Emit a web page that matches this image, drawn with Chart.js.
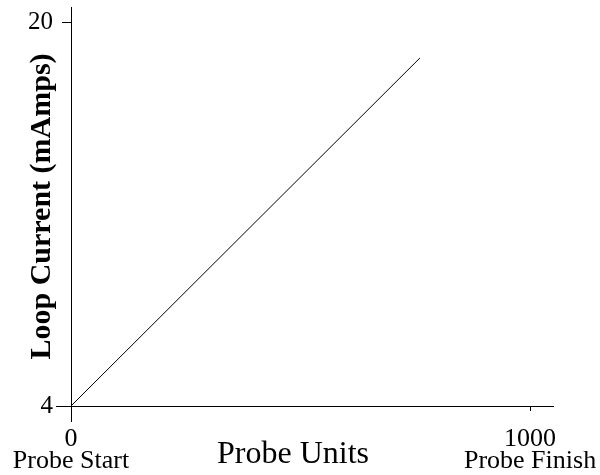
<!DOCTYPE html>
<html lang="en">
<head>
  <meta charset="UTF-8">
  <title>Loop Current vs Probe Units</title>
  <script src="https://cdn.jsdelivr.net/npm/chart.js"></script>
  <style>
    html, body {
      margin: 0;
      padding: 0;
      background: #fff;
    }
    .chart-container {
      width: 600px;
      height: 475px;
    }
  </style>
</head>
<body>

  <div class="chart-container">
    <canvas id="loopChart" width="600" height="475"></canvas>
  </div>

  <script>
    // data
    const probeUnits = [0, 760];
    const loopCurrent = [4, 18.5];
    const xTickValues = [0, 1000];
    const xTickNames = ['Probe Start', 'Probe Finish'];
    const yTickValues = [4, 20];
    const xTitle = 'Probe Units';
    const yTitle = 'Loop Current (mAmps)';

    const serif = 'Liberation Serif';

    // axis overhangs + x title (sits beside the tick labels, like the original)
    const extras = {
      id: 'extras',
      afterDraw(chart) {
        const { ctx, chartArea, scales } = chart;
        const x0 = scales.x.getPixelForValue(xTickValues[0]);
        const y0 = scales.y.getPixelForValue(yTickValues[0]);
        ctx.save();
        ctx.strokeStyle = '#000';
        ctx.lineWidth = 1;
        ctx.beginPath();
        ctx.moveTo(Math.round(x0) + 0.5, chartArea.bottom);
        ctx.lineTo(Math.round(x0) + 0.5, chartArea.bottom + 16);
        ctx.moveTo(chartArea.left, Math.round(y0) + 0.5);
        ctx.lineTo(chartArea.left - 15, Math.round(y0) + 0.5);
        ctx.stroke();
        ctx.fillStyle = '#000';
        ctx.font = '32px "' + serif + '"';
        ctx.textAlign = 'center';
        ctx.textBaseline = 'alphabetic';
        ctx.fillText(xTitle, 293, 463);
        ctx.restore();
      }
    };

    const ctx = document.getElementById('loopChart').getContext('2d');
    const loopChart = new Chart(ctx, {
      type: 'line',
      data: {
        datasets: [{
          data: probeUnits.map((v, i) => ({ x: v, y: loopCurrent[i] })),
          borderColor: '#000',
          borderWidth: 1,
          pointRadius: 0,
          tension: 0,
          fill: false
        }]
      },
      options: {
        responsive: false,
        animation: false,
        layout: { padding: { top: 7, right: 47, left: 0, bottom: 0 } },
        plugins: {
          legend: { display: false },
          tooltip: { enabled: false }
        },
        scales: {
          x: {
            type: 'linear',
            min: 0,
            max: 1050,
            afterBuildTicks: (s) => { s.ticks = xTickValues.map(v => ({ value: v })); },
            afterFit: (s) => { s.height = 69; s.paddingLeft = 0; s.paddingRight = 0; },
            grid: { drawOnChartArea: false, tickLength: 5, color: '#000' },
            border: { color: '#000' },
            ticks: {
              color: '#000',
              padding: 17,
              maxRotation: 0,
              autoSkip: false,
              font: { family: serif, size: 26, lineHeight: 0.85 },
              callback: (v) => [String(v), xTickNames[xTickValues.indexOf(v)]]
            }
          },
          y: {
            type: 'linear',
            min: 4,
            max: 20.625,
            afterBuildTicks: (s) => { s.ticks = yTickValues.map(v => ({ value: v })); },
            afterFit: (s) => { s.width = 71; s.paddingTop = 0; s.paddingBottom = 0; },
            grid: { drawOnChartArea: false, tickLength: 9, color: '#000' },
            border: { color: '#000' },
            ticks: {
              color: '#000',
              padding: 9,
              font: { family: serif, size: 25 }
            },
            title: {
              display: true,
              text: yTitle,
              color: '#000',
              padding: { top: 24, bottom: 0 },
              font: { family: serif, size: 30, weight: 'bold' }
            }
          }
        }
      },
      plugins: [extras]
    });
  </script>

</body>
</html>
